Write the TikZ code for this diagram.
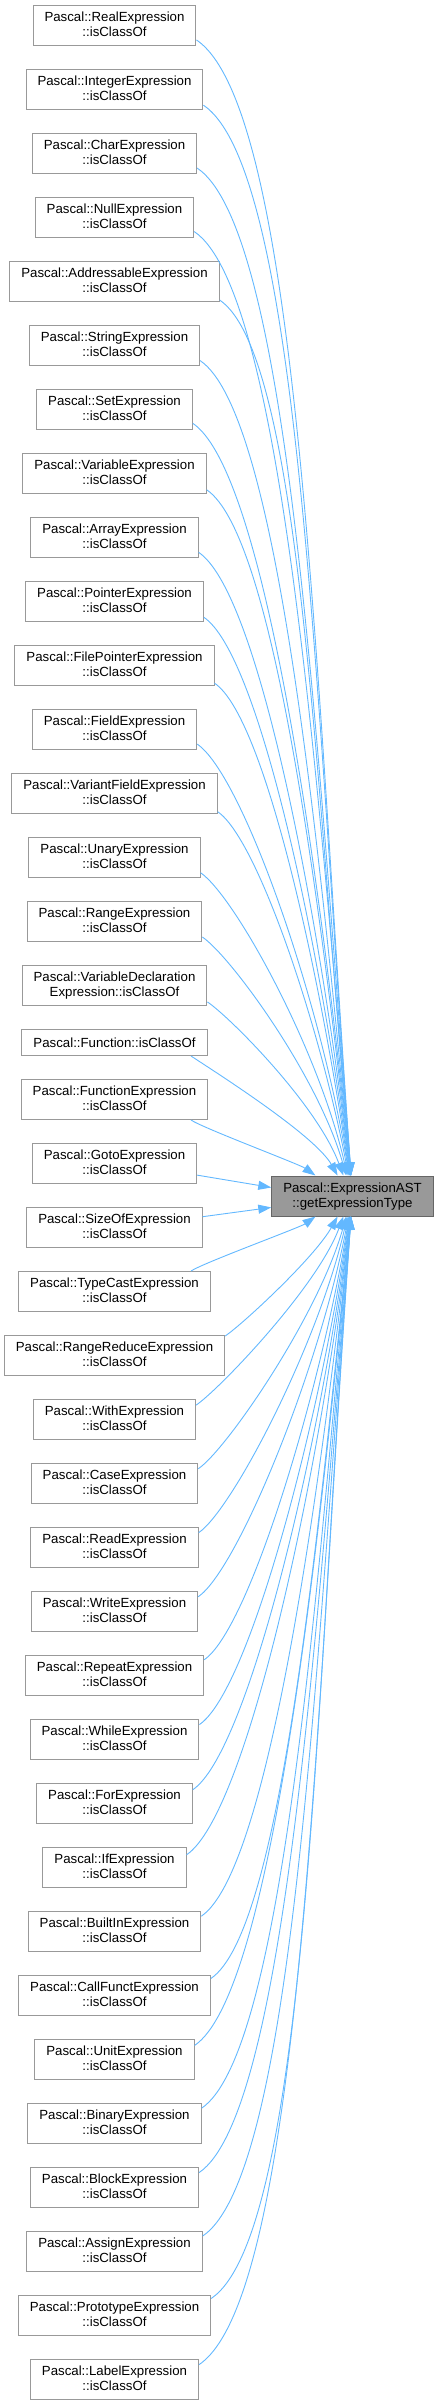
\documentclass[tikz,border=0pt]{standalone}
\usepackage{fontspec}
\setmainfont{Liberation Sans}
\usetikzlibrary{arrows.meta, positioning}

\definecolor{callblue}{HTML}{63B8FF}
\definecolor{boxgray}{HTML}{999999}
\definecolor{calleefill}{HTML}{999999}
\definecolor{calleeline}{HTML}{666666}

\begin{document}
\begin{tikzpicture}[x=1bp, y=1bp, node distance=23bp]

    % Define styles
    \tikzstyle{caller} = [draw=boxgray, fill=white, line width=1bp, align=center,
        font=\fontsize{13.3}{15}\selectfont, inner xsep=11.5bp, inner ysep=6bp,
        text height=25bp, text depth=3bp]
    \tikzstyle{oneline} = [text height=11.7bp, text depth=2.3bp]
    \tikzstyle{callee} = [caller, draw=calleeline, fill=calleefill]
    \tikzstyle{call} = [callblue, line width=0.9bp, -{Triangle[length=13bp, width=9bp]}]

    \useasboundingbox (0,0) rectangle (439,-2405);

    % Called function
    \node[callee] (gettype) at (352.5,-1196) {Pascal::ExpressionAST\\::getExpressionType};

    % Callers, top to bottom
    \coordinate (cls0) at (114.5,18);
    \foreach \name [count=\i, remember=\i as \j (initially 0)] in {
        Pascal::RealExpression\\::isClassOf,
        Pascal::IntegerExpression\\::isClassOf,
        Pascal::CharExpression\\::isClassOf,
        Pascal::NullExpression\\::isClassOf,
        Pascal::AddressableExpression\\::isClassOf,
        Pascal::StringExpression\\::isClassOf,
        Pascal::SetExpression\\::isClassOf,
        Pascal::VariableExpression\\::isClassOf,
        Pascal::ArrayExpression\\::isClassOf,
        Pascal::PointerExpression\\::isClassOf,
        Pascal::FilePointerExpression\\::isClassOf,
        Pascal::FieldExpression\\::isClassOf,
        Pascal::VariantFieldExpression\\::isClassOf,
        Pascal::UnaryExpression\\::isClassOf,
        Pascal::RangeExpression\\::isClassOf,
        Pascal::VariableDeclaration\\Expression::isClassOf}
        \node[caller, below=of cls\j] (cls\i) {\name};
    \node[caller, oneline, below=of cls16] (cls17) {Pascal::Function::isClassOf};
    \foreach \name [count=\i from 18, remember=\i as \j (initially 17)] in {
        Pascal::FunctionExpression\\::isClassOf,
        Pascal::GotoExpression\\::isClassOf,
        Pascal::SizeOfExpression\\::isClassOf,
        Pascal::TypeCastExpression\\::isClassOf,
        Pascal::RangeReduceExpression\\::isClassOf,
        Pascal::WithExpression\\::isClassOf,
        Pascal::CaseExpression\\::isClassOf,
        Pascal::ReadExpression\\::isClassOf,
        Pascal::WriteExpression\\::isClassOf,
        Pascal::RepeatExpression\\::isClassOf,
        Pascal::WhileExpression\\::isClassOf,
        Pascal::ForExpression\\::isClassOf,
        Pascal::IfExpression\\::isClassOf,
        Pascal::BuiltInExpression\\::isClassOf,
        Pascal::CallFunctExpression\\::isClassOf,
        Pascal::UnitExpression\\::isClassOf,
        Pascal::BinaryExpression\\::isClassOf,
        Pascal::BlockExpression\\::isClassOf,
        Pascal::AssignExpression\\::isClassOf,
        Pascal::PrototypeExpression\\::isClassOf,
        Pascal::LabelExpression\\::isClassOf}
        \node[caller, below=of cls\j] (cls\i) {\name};

    % Calls coming down from above
    \foreach \i in {1,...,18}{
        \pgfmathtruncatemacro{\k}{19-\i}
        \pgfmathtruncatemacro{\sa}{\k==1 ? -15 : -10}
        \pgfmathtruncatemacro{\ea}{round(atan2(20, -0.5-35/\k^1.3))}
        \pgfmathsetmacro{\ia}{90+55/\k^0.9}
        \pgfmathsetmacro{\lo}{6.4*\k+8}
        \pgfmathsetmacro{\li}{0.44*(64*\k-20)}
        \draw[call] (cls\i.\sa) .. controls +(-34:\lo) and +(\ia:\li) .. (gettype.\ea);
    }

    % Calls from the side
    \draw[call] (cls19.-8) -- (gettype.174);
    \draw[call] (cls20.7) -- (gettype.-172);

    % Calls coming up from below
    \foreach \i in {21,...,38}{
        \pgfmathtruncatemacro{\k}{\i-20}
        \pgfmathtruncatemacro{\sa}{\k==1 ? 15 : 10}
        \pgfmathtruncatemacro{\ea}{round(atan2(-20, -0.5-35/\k^1.3))}
        \pgfmathsetmacro{\ia}{-90-55/\k^0.9}
        \pgfmathsetmacro{\lo}{6.4*\k+8}
        \pgfmathsetmacro{\li}{0.44*(64*\k-20)}
        \draw[call] (cls\i.\sa) .. controls +(34:\lo) and +(\ia:\li) .. (gettype.\ea);
    }

\end{tikzpicture}
\end{document}
